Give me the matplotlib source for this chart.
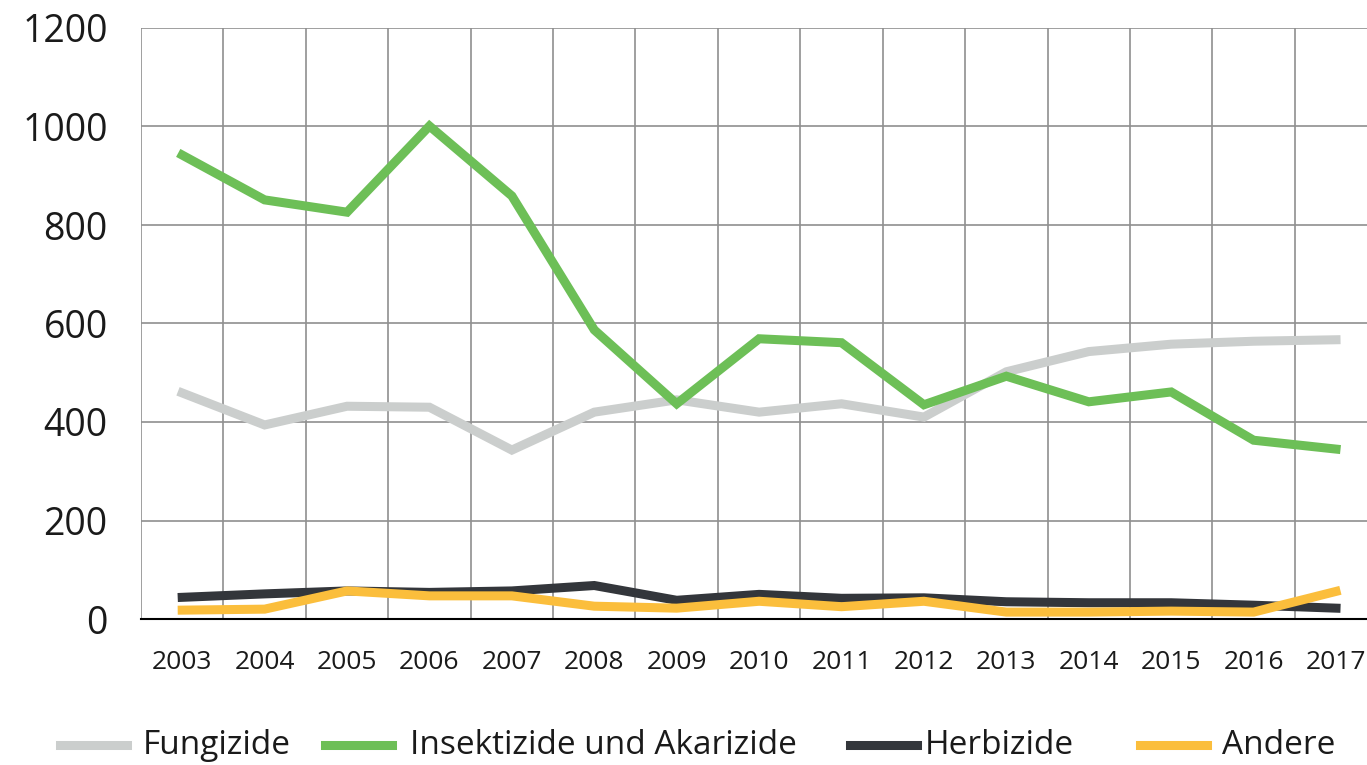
import numpy as np
import matplotlib.pyplot as plt
from matplotlib.lines import Line2D

years = list(range(2003, 2018))
fungizide = [459, 394, 432, 430, 343, 420, 445, 420, 437, 410, 502, 543, 558, 564, 567]
insektizide = [942, 851, 826, 1001, 859, 587, 437, 569, 561, 435, 493, 441, 461, 363, 345]
herbizide = [44, 51, 57, 54, 57, 68, 38, 50, 42, 43, 35, 33, 33, 28, 22]
andere = [18, 20, 57, 47, 47, 26, 22, 36, 25, 36, 14, 14, 16, 14, 56]

labels = ["Fungizide", "Insektizide und Akarizide", "Herbizide", "Andere"]
colors = ["#cbcecd", "#6dbf57", "#33363b", "#fbbe3c"]
series = [fungizide, insektizide, herbizide, andere]

plt.rcParams['font.family'] = ['Open Sans', 'DejaVu Sans']

W, H = 1367, 765
fig = plt.figure(figsize=(W / 100, H / 100), dpi=100)
ax = fig.add_axes([141 / W, (H - 619) / H, (W - 141) / W, (619 - 28) / H])

for vals, c in zip(series, colors):
    ax.plot(years, vals, color=c, lw=6.5, solid_joinstyle='miter', zorder=3)

ax.set_xlim(2002.5, 2017.376)
ax.set_ylim(0, 1200)
ax.set_yticks(range(0, 1201, 200))
ax.set_xticks(years)
ax.set_xticks(np.arange(2002.5, 2017.5, 0.5), minor=True)
ax.grid(which='minor', axis='x', color='#8f8f8f', lw=1.2, zorder=1)
ax.grid(which='major', axis='y', color='#8f8f8f', lw=1.2, zorder=1)
ax.tick_params(axis='both', which='both', length=0)
ax.tick_params(axis='y', labelsize=27, pad=24, labelcolor='#1a1a1a')
ax.tick_params(axis='x', labelsize=19, pad=22, labelcolor='#1a1a1a')
for s in ['top', 'right', 'left']:
    ax.spines[s].set_visible(False)
ax.spines['bottom'].set_color('black')
ax.spines['bottom'].set_linewidth(1.5)
ax.spines['bottom'].set_zorder(4)

# legend
leg_x = [(60, 143), (325, 410), (850, 925), (1140, 1222)]
leg_y = 1 - 745 / H
for (hx, tx), lab, c in zip(leg_x, labels, colors):
    fig.add_artist(Line2D([hx / W, (hx + 67) / W], [leg_y, leg_y], color=c, lw=6.5,
                          transform=fig.transFigure))
    fig.text(tx / W, leg_y, lab, fontsize=24, va='center', ha='left', color='#1a1a1a')

fig.savefig("out.png", dpi=100)
